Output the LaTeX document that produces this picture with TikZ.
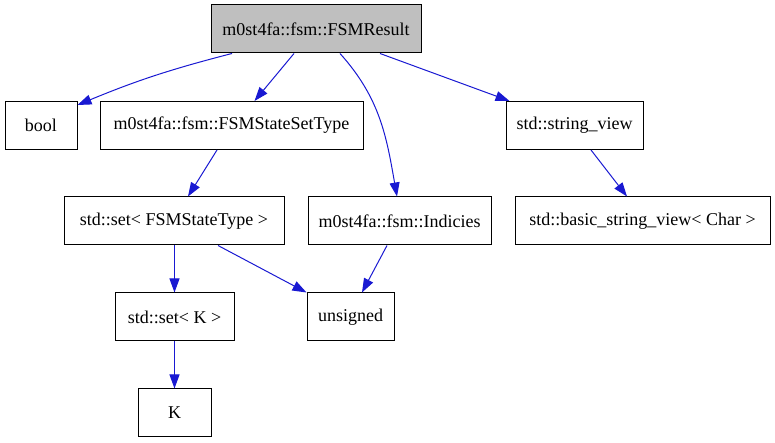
\documentclass[tikz,border=0pt]{standalone}
\usepackage{fontspec}
\setmainfont{Liberation Serif}
\usetikzlibrary{arrows.meta}
\definecolor{edgeblue}{RGB}{25,25,210}
\definecolor{rootgray}{RGB}{191,191,191}
\tikzset{
  box/.style={draw=black, line width=1pt, rectangle, minimum height=48pt, inner sep=0pt, font=\fontsize{18}{20}\selectfont},
  rootbox/.style={box, fill=rootgray},
  edge/.style={draw=edgeblue, line width=1pt, -{Triangle[length=14pt,width=10pt]}}
}
\begin{document}
\begin{tikzpicture}[x=1pt,y=1pt]
\useasboundingbox (0,0) rectangle (775,443);
\node[rootbox, minimum width=210pt] (r) at (316,414) {m0st4fa::fsm::FSMResult};
\node[box, minimum width=72pt] (bool) at (41,317.5) {bool};
\node[box, minimum width=263pt] (sst) at (231.5,317.5) {m0st4fa::fsm::FSMStateSetType};
\node[box, minimum width=137pt] (sv) at (574.5,317.5) {std::string\_view};
\node[box, minimum width=220pt] (sfs) at (174,222) {std::set< FSMStateType >};
\node[box, minimum width=183pt] (ind) at (399.5,222) {m0st4fa::fsm::Indicies};
\node[box, minimum width=255pt] (bsv) at (642.5,222) {std::basic\_string\_view< Char >};
\node[box, minimum width=119pt] (sk) at (174.5,126) {std::set< K >};
\node[box, minimum width=87pt] (uns) at (350.5,126) {unsigned};
\node[box, minimum width=73pt] (k) at (174.5,30) {K};

\draw[edge] ([xshift=-84pt]r.south) to[bend right=4] ([yshift=-4pt]bool.north east);
\draw[edge] ([xshift=-22pt]r.south) -- ([xshift=23pt]sst.north);
\draw[edge] ([xshift=24pt]r.south) to[out=-48,in=100] ([xshift=-2.5pt]ind.north);
\draw[edge] ([xshift=64pt]r.south) -- ([xshift=4pt]sv.north west);
\draw[edge] ([xshift=-14.5pt]sst.south) -- ([xshift=14pt]sfs.north);
\draw[edge] ([xshift=16.5pt]sv.south) -- ([xshift=-15.5pt]bsv.north);
\draw[edge] ([xshift=0.5pt]sfs.south) -- (sk.north);
\draw[edge] ([xshift=44pt]sfs.south) -- (uns.north west);
\draw[edge] ([xshift=-12.5pt]ind.south) -- ([xshift=11.5pt]uns.north);
\draw[edge] (sk.south) -- (k.north);
\end{tikzpicture}
\end{document}
